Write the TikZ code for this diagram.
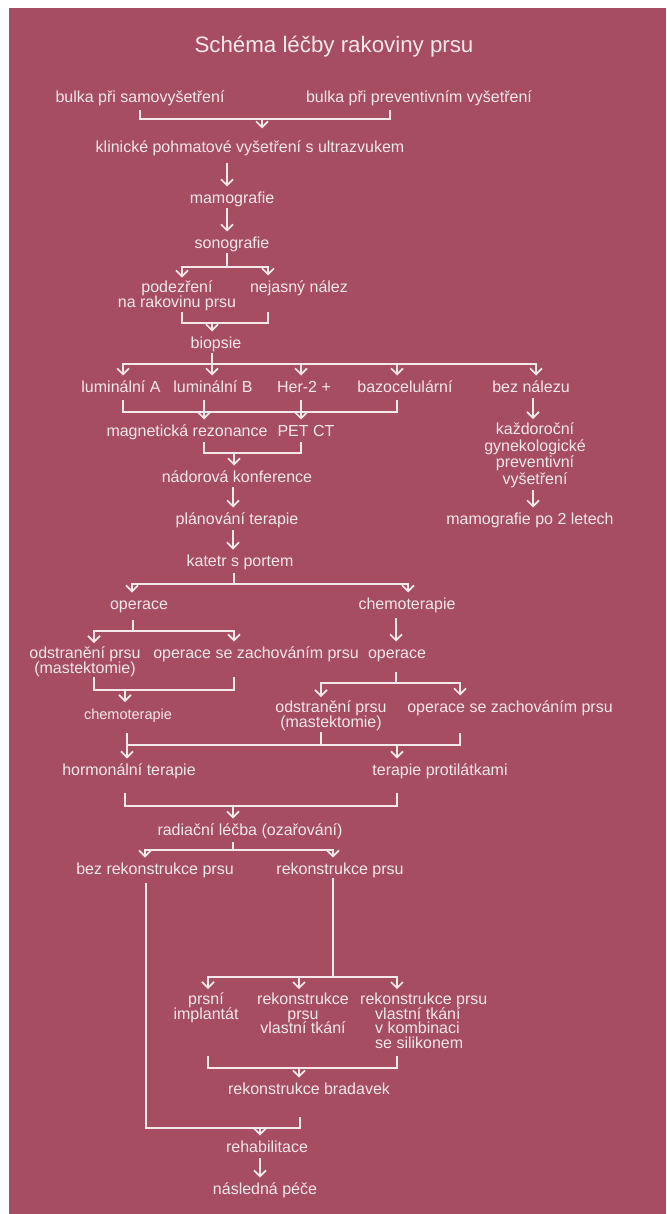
\documentclass[tikz,border=0pt]{standalone}
\usepackage{fontspec}
\setmainfont{Liberation Sans}
\usetikzlibrary{arrows.meta}
\definecolor{RKPaper}{HTML}{A64D62}
\definecolor{RKInk}{HTML}{F4E8EA}
\tikzset{
  lbl/.style={text=RKInk,inner sep=0pt,anchor=base,font=\fontsize{16}{14.5}\selectfont},
  blk/.style={lbl,align=center,font={\fontsize{16}{14.5}\selectfont\lineskiplimit=-20pt}},
  conn/.style={draw=RKInk,line width=1.7pt},
  arr/.style={conn,-{Straight Barb[length=6pt,width=12pt]},shorten >=17pt},
  arrtop/.style={arr,shorten >=3.5pt},
}
\begin{document}
\begin{tikzpicture}[x=1pt,y=-1pt]
\path[use as bounding box] (0,0) rectangle (666,1214);
\fill[RKPaper] (9,8) rectangle (666,1214);

% title
\node[lbl,font=\fontsize{22.3}{26}\selectfont] (title) at (334,53) {Schéma léčby rakoviny prsu};

% diagnostika (multi-line nodes sit on their last baseline)
\node[lbl] (bulka1) at (140,102.5) {bulka při samovyšetření};
\node[lbl] (bulka2) at (419,102.5) {bulka při preventivním vyšetření};
\node[lbl] (klin) at (250,152.5) {klinické pohmatové vyšetření s ultrazvukem};
\node[lbl] (mamo) at (232,203.5) {mamografie};
\node[lbl] (sono) at (232,248.5) {sonografie};
\node[blk] (pode) at (177,307.5) {podezření\\na rakovinu prsu};
\node[lbl] (neja) at (299,292.5) {nejasný nález};
\node[lbl] (biop) at (216,348.5) {biopsie};
\node[lbl] (lumA) at (121,392.5) {luminální A};
\node[lbl] (lumB) at (213,392.5) {luminální B};
\node[lbl] (her2) at (304,392.5) {Her-2 +};
\node[lbl] (bazo) at (405,392.5) {bazocelulární};
\node[lbl] (bezn) at (531,392.5) {bez nálezu};
\node[lbl] (magn) at (187,436.5) {magnetická rezonance};
\node[lbl] (pet) at (306,436.5) {PET CT};
\node[blk,font={\fontsize{16}{16.7}\selectfont\lineskiplimit=-20pt}] (kazd) at (535,484.6)
  {každoroční\\gynekologické\\preventivní\\vyšetření};
\node[lbl] (mam2) at (530,524.5) {mamografie po 2 letech};
\node[lbl] (nado) at (237,482.5) {nádorová konference};
\node[lbl] (plan) at (237,524.5) {plánování terapie};
\node[lbl] (kat) at (240,566.5) {katetr s portem};

% lecba
\node[lbl] (oper1) at (139,609.5) {operace};
\node[lbl] (chemo1) at (407,609.5) {chemoterapie};
\node[blk] (odst1) at (85,673) {odstranění prsu\\(mastektomie)};
\node[lbl] (oper2) at (256,658.5) {operace se zachováním prsu};
\node[lbl] (oper3) at (397,658.5) {operace};
\node[lbl,font=\fontsize{14.5}{14}\selectfont] (chemo2) at (128,719) {chemoterapie};
\node[blk,font={\fontsize{16}{15}\selectfont\lineskiplimit=-20pt}] (odst2) at (331,727.5) {odstranění prsu\\(mastektomie)};
\node[lbl] (oper4) at (510,712.5) {operace se zachováním prsu};
\node[lbl] (horm) at (129,775.5) {hormonální terapie};
\node[lbl] (terp) at (440,775.5) {terapie protilátkami};
\node[lbl] (radi) at (250,835.5) {radiační léčba (ozařování)};
\node[lbl] (bezr) at (155,874.5) {bez rekonstrukce prsu};
\node[lbl] (reko) at (340,874.5) {rekonstrukce prsu};
\node[blk] (impl) at (206,1019) {prsní\\implantát};
\node[blk] (rkvl) at (303,1033.5) {rekonstrukce\\prsu\\vlastní tkání};
\node[blk,align=left,anchor=base west] (rkks) at (360,1048)
  {rekonstrukce prsu\\\hspace*{15pt}vlastní tkání\\\hspace*{15pt}v kombinaci\\\hspace*{15pt}se silikonem};
\node[lbl] (brad) at (309,1094.5) {rekonstrukce bradavek};
\node[lbl] (reha) at (267,1152.5) {rehabilitace};
\node[lbl] (nasl) at (265,1194.5) {následná péče};

% spojnice
\coordinate (j1) at (262,119);
\draw[conn] ([yshift=-7.5pt]bulka1.base) |- (j1) -| ([xshift=-29pt,yshift=-7.5pt]bulka2.base);
\draw[arr,shorten >=24pt] (j1) -- (j1 |- klin.base);
\draw[arr] ([xshift=-5pt]mamo.base |- klin.base) ++(0,10.5) -- ([xshift=-5pt]mamo.base);
\draw[arr] ([xshift=-5pt,yshift=-4.5pt]mamo.base) -- ([xshift=-5pt]mamo.base |- sono.base);

\coordinate (j4) at (227,267);
\draw[conn] ([xshift=-5pt,yshift=-4.5pt]sono.base) -- (j4);
\draw[arrtop] (j4) -| ([xshift=5pt]pode.north);
\draw[arr] (j4) -| ([xshift=-31pt]neja.base);

\coordinate (j5) at (212,323);
\draw[conn] ([xshift=5pt,yshift=-1pt]pode.south) |- (j5) -| ([xshift=-31pt,yshift=-19.5pt]neja.base);
\draw[arr] (j5) -- (j5 |- biop.base);

\coordinate (j6) at (212,364);
\draw[conn] ([xshift=-4pt,yshift=-4.5pt]biop.base) -- (j6);
\draw[arr] (j6) -| ([xshift=2pt]lumA.base);
\draw[arr] (j6) -| ([xshift=-1pt]lumB.base);
\draw[arr] (j6) -| ([xshift=-3pt]her2.base);
\draw[arr] (j6) -| ([xshift=-8pt]bazo.base);
\draw[arr] (j6) -| ([xshift=5pt]bezn.base);

\coordinate (j7) at (123,412);
\coordinate (k7) at (397,412);
\draw[conn] ([xshift=2pt,yshift=-7.5pt]lumA.base) -- (j7) -- (k7) -- ([xshift=-8pt,yshift=-7.5pt]bazo.base);
\draw[arr] ([xshift=-9pt,yshift=-7.5pt]lumB.base) -- ([xshift=-9pt]lumB.base |- magn.base);
\draw[arr] ([xshift=-3pt,yshift=-7.5pt]her2.base) -- ([xshift=-3pt]her2.base |- pet.base);

\coordinate (j8) at (234,453);
\draw[conn] ([xshift=17pt,yshift=-5.5pt]magn.base) |- (j8) -| ([xshift=-5pt,yshift=-5.5pt]pet.base);
\draw[arr] (j8) -- (j8 |- nado.base);
\draw[arr] ([xshift=-4pt,yshift=-4.5pt]nado.base) -- ([xshift=-4pt]nado.base |- plan.base);
\draw[arr] ([xshift=-4pt,yshift=-5.5pt]plan.base) -- ([xshift=-4pt]plan.base |- kat.base);

\draw[arrtop] ([xshift=2pt,yshift=-5.5pt]bezn.base) -- ([xshift=2pt]bezn.base |- kazd.north);
\draw[arr] ([xshift=-2pt,yshift=-2pt]kazd.south) -- ([xshift=-2pt]kazd.south |- mam2.base);

\coordinate (j10) at (234,584);
\draw[conn] ([xshift=-6pt,yshift=-6.5pt]kat.base) -- (j10);
\draw[arr] (j10) -| ([xshift=-7pt]oper1.base);
\draw[arr] (j10) -| ([xshift=1pt]chemo1.base);

\coordinate (j11) at (133,631);
\draw[conn] ([xshift=-6pt,yshift=-10.5pt]oper1.base) -- (j11);
\draw[arrtop] (j11) -| ([xshift=9pt]odst1.north);
\draw[arr] (j11) -| ([xshift=-22pt]oper2.base);
\draw[arr] ([xshift=-11pt,yshift=-8.5pt]chemo1.base) -- ([xshift=-11pt]chemo1.base |- oper3.base);

\coordinate (j13) at (396,683);
\draw[conn] ([xshift=-1pt,yshift=-13.5pt]oper3.base) -- (j13);
\draw[arrtop] (j13) -| ([xshift=-10pt]odst2.north);
\draw[arr] (j13) -| ([xshift=-50pt]oper4.base);

\coordinate (j14) at (125,690);
\draw[conn] ([xshift=9pt]odst1.south) |- (j14) -| ([xshift=-22pt,yshift=-18pt]oper2.base);
\draw[arr] (j14) -- (j14 |- chemo2.base);

\coordinate (j15) at (127,745);
\coordinate (k15) at (460,745);
\coordinate (m15) at (397,745);
\draw[conn] ([xshift=-1pt,yshift=-14pt]chemo2.base) -- (j15) -- (k15) -- ([xshift=-50pt,yshift=-20.5pt]oper4.base);
\draw[conn] ([xshift=-10pt,yshift=-1pt]odst2.south) -- ([xshift=-10pt]odst2.south |- j15);
\draw[arr] (j15) -- (j15 |- horm.base);
\draw[arr] (m15) -- (m15 |- terp.base);

\coordinate (j16) at (233,806);
\draw[conn] ([xshift=-4pt,yshift=-17.5pt]horm.base) |- (j16) -| ([xshift=-43pt,yshift=-17.5pt]terp.base);
\draw[arr] (j16) -- (j16 |- radi.base);

\coordinate (j17) at (233,850);
\draw[conn] ([xshift=-17pt,yshift=-6.5pt]radi.base) -- (j17);
\draw[arr] (j17) -| ([xshift=-10pt]bezr.base);
\draw[arr] (j17) -| ([xshift=-7pt]reko.base);

\coordinate (j19) at (333,977);
\draw[conn] ([xshift=-7pt,yshift=-3.5pt]reko.base) -- (j19);
\draw[arrtop] (j19) -| ([xshift=2pt]impl.north);
\draw[arrtop] (j19) -| ([xshift=-4pt]rkvl.north);
\draw[arrtop] (j19) -| ([xshift=37pt]rkks.north west);

\coordinate (j20) at (299,1068);
\draw[conn] ([xshift=2pt,yshift=-8pt]impl.base |- rkks.south) |- (j20) -| ([xshift=37pt,yshift=-8pt]rkks.south west);
\draw[arr] (j20) -- (j20 |- brad.base);

\coordinate (j18) at (260,1128);
\draw[conn] ([xshift=-9pt,yshift=-8.5pt]bezr.base) |- (j18) -| ([xshift=-9pt,yshift=-22.5pt]brad.base);
\draw[arr] (j18) -- (j18 |- reha.base);
\draw[arr] ([xshift=-7pt,yshift=-5.5pt]reha.base) -- ([xshift=-7pt]reha.base |- nasl.base);
\end{tikzpicture}
\end{document}
